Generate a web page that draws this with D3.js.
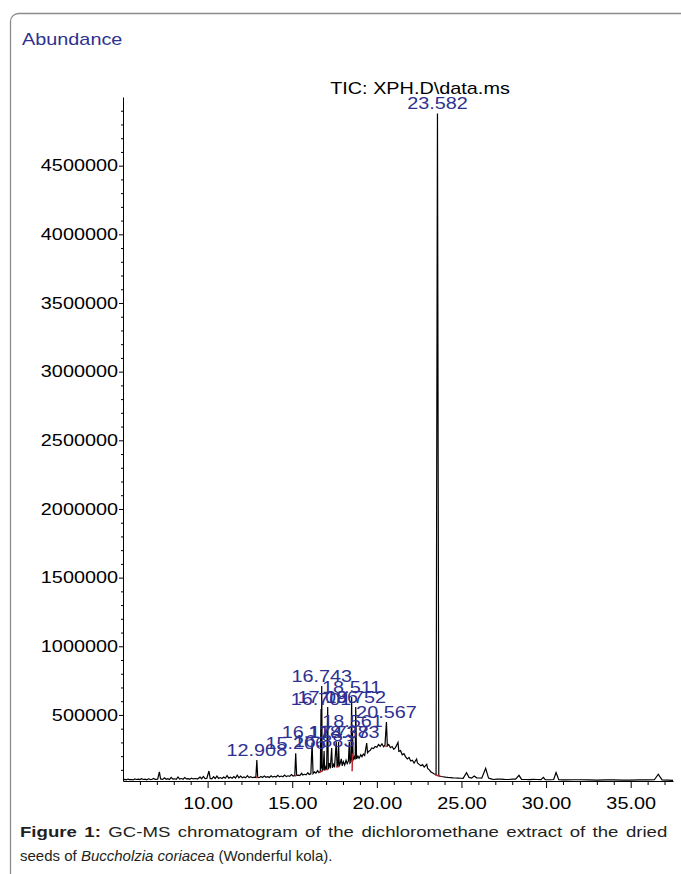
<!DOCTYPE html>
<html>
<head>
<meta charset="utf-8">
<script src="https://cdn.jsdelivr.net/npm/d3@7"></script>
<style>
  body { margin: 0; background: #fff; }
  #wrap { position: relative; width: 681px; height: 874px; overflow: hidden; }
  #chart { position: absolute; left: 0; top: 0; }
  .caption { position: absolute; left: 20px; font-family: "Liberation Sans", Arial, sans-serif;
    font-size: 15px; line-height: 24px; color: #231f20; white-space: nowrap; }
  .caption.l1 { top: 820px; width: 522px; text-align: justify; text-align-last: justify; white-space: normal;
    transform: scaleX(1.24); transform-origin: 0 0; }
  .caption.l2 { top: 844px; }
</style>
</head>
<body>
<div id="wrap">
  <div id="chart"></div>
  <div class="caption l1"><b>Figure 1:</b> GC-MS chromatogram of the dichloromethane extract of the dried</div>
  <div class="caption l2">seeds of <i>Buccholzia coriacea</i> (Wonderful kola).</div>
</div>
<script>

// --------------------------------------
//  Data
// --------------------------------------

// TIC trace: retention time (min), abundance
const traceTime = [
  5.00, 5.10, 5.20, 5.30, 5.40, 5.50, 5.60, 5.70, 5.80, 5.90, 6.00, 6.10, 6.20, 6.30, 6.40, 6.50,
  6.60, 6.70, 6.80, 6.90, 7.05, 7.15, 7.22, 7.35, 7.45, 7.55, 7.65, 7.75, 7.85, 7.95, 8.05, 8.15,
  8.25, 8.35, 8.45, 8.55, 8.65, 8.75, 8.85, 8.95, 9.05, 9.15, 9.30, 9.40, 9.55, 9.65, 9.75, 9.85,
  9.95, 10.08, 10.15, 10.25, 10.35, 10.45, 10.55, 10.65, 10.75, 10.85, 10.95, 11.05, 11.15, 11.25, 11.35, 11.45,
  11.55, 11.65, 11.75, 11.85, 11.95, 12.05, 12.15, 12.25, 12.35, 12.45, 12.55, 12.65, 12.75, 12.85, 12.908, 12.96,
  13.05, 13.15, 13.25, 13.35, 13.45, 13.55, 13.65, 13.75, 13.85, 13.95, 14.05, 14.15, 14.25, 14.35, 14.45, 14.55,
  14.65, 14.75, 14.85, 14.95, 15.05, 15.15, 15.206, 15.26, 15.35, 15.45, 15.55, 15.62, 15.72, 15.82, 15.92, 16.00,
  16.10, 16.174, 16.23, 16.32, 16.40, 16.50, 16.58, 16.66, 16.701, 16.72, 16.743, 16.77, 16.83, 16.883, 16.92, 16.98,
  17.03, 17.096, 17.13, 17.20, 17.25, 17.33, 17.37, 17.45, 17.50, 17.60, 17.65, 17.70, 17.738, 17.78, 17.84, 17.90,
  17.95, 18.02, 18.10, 18.18, 18.25, 18.32, 18.373, 18.41, 18.47, 18.511, 18.535, 18.561, 18.60, 18.68, 18.72, 18.752,
  18.80, 18.88, 18.95, 19.05, 19.12, 19.20, 19.28, 19.40, 19.45, 19.52, 19.60, 19.70, 19.80, 19.90, 20.00, 20.10,
  20.20, 20.30, 20.40, 20.48, 20.567, 20.62, 20.70, 20.80, 20.90, 21.00, 21.10, 21.25, 21.30, 21.40, 21.50, 21.60,
  21.70, 21.80, 21.90, 22.00, 22.10, 22.20, 22.35, 22.40, 22.50, 22.60, 22.70, 22.80, 22.95, 23.00, 23.10, 23.20,
  23.30, 23.40, 23.50, 23.582, 23.66, 23.70, 23.80, 23.90, 24.05, 24.20, 24.35, 24.50, 24.65, 24.80, 24.95, 25.10,
  25.30, 25.45, 25.60, 25.75, 25.90, 26.05, 26.20, 26.43, 26.60, 26.75, 26.90, 27.10, 27.30, 27.55, 27.80, 28.00,
  28.20, 28.40, 28.55, 28.80, 29.00, 29.25, 29.50, 29.70, 29.84, 29.95, 30.15, 30.30, 30.45, 30.59, 30.75, 31.00,
  31.20, 31.60, 32.00, 32.50, 33.00, 33.50, 34.00, 34.50, 35.00, 35.50, 36.00, 36.40, 36.63, 36.85, 37.20, 37.50
];
const traceAbund = [
  28000, 31000, 27000, 33000, 29000, 30000, 27000, 34000, 30000, 32000, 29000, 36000, 30000, 33000, 28000, 35000,
  31000, 30000, 37000, 31000, 33000, 85000, 34000, 31000, 42000, 32000, 36000, 30000, 45000, 33000, 35000, 31000,
  48000, 33000, 37000, 32000, 44000, 34000, 36000, 31000, 40000, 34000, 37000, 33000, 47000, 35000, 52000, 36000,
  38000, 92000, 38000, 35000, 50000, 37000, 55000, 38000, 44000, 37000, 48000, 39000, 58000, 40000, 47000, 39000,
  52000, 41000, 62000, 42000, 55000, 43000, 49000, 42000, 58000, 44000, 50000, 43000, 47000, 44000, 172000, 46000,
  43000, 52000, 45000, 56000, 46000, 50000, 45000, 57000, 47000, 53000, 48000, 60000, 49000, 55000, 50000, 62000,
  51000, 57000, 53000, 66000, 55000, 58000, 221000, 60000, 62000, 58000, 75000, 63000, 68000, 64000, 80000, 67000,
  72000, 300000, 72000, 85000, 76000, 95000, 80000, 88000, 543000, 110000, 711000, 95000, 100000, 238000, 95000, 120000,
  100000, 558000, 105000, 150000, 110000, 259000, 115000, 140000, 118000, 305000, 122000, 135000, 303000, 125000, 150000, 180000,
  130000, 160000, 135000, 170000, 145000, 165000, 303000, 150000, 160000, 631000, 165000, 383000, 170000, 195000, 175000, 558000,
  180000, 200000, 185000, 210000, 195000, 215000, 205000, 295000, 225000, 235000, 240000, 260000, 255000, 270000, 265000, 285000,
  272000, 290000, 268000, 280000, 449000, 275000, 285000, 262000, 270000, 250000, 262000, 300000, 235000, 240000, 210000, 218000,
  195000, 180000, 190000, 165000, 170000, 150000, 179000, 150000, 140000, 130000, 138000, 120000, 140000, 110000, 100000, 85000,
  78000, 70000, 65000, 4880000, 60000, 55000, 52000, 50000, 47000, 45000, 44000, 42000, 41000, 40000, 39000, 38000,
  80000, 45000, 40000, 55000, 42000, 41000, 40000, 111000, 40000, 35000, 30000, 33000, 33000, 31000, 30000, 32000,
  32000, 60000, 31000, 30000, 29000, 31000, 30000, 29000, 46000, 29000, 28000, 28000, 30000, 80000, 28000, 27000,
  27000, 28000, 28000, 27000, 26000, 27000, 27000, 26000, 26000, 27000, 27000, 28000, 68000, 27000, 25000, 24000
];

// labelled peaks
const peakTimes = [12.908, 15.206, 16.174, 16.701, 16.743, 16.883, 17.096, 17.738, 18.373, 18.511, 18.561, 18.752, 20.567, 23.582];
const peakHeights = [172000, 221000, 300000, 543000, 711000, 238000, 558000, 303000, 303000, 631000, 383000, 558000, 449000, 4880000];
const peakLabels = ["12.908", "15.206", "16.174", "16.701", "16.743", "16.883", "17.096", "17.738", "18.373", "18.511", "18.561", "18.752", "20.567", "23.582"];

// red integration marks: start time, start abundance, end time, end abundance
const markT1 = [12.85, 15.15, 16.62, 17.00, 17.60, 18.45, 18.54, 20.50, 23.45];
const markV1 = [44000, 56000, 82000, 100000, 120000, 160000, 90000, 270000, 65000];
const markT2 = [12.96, 15.26, 16.80, 17.13, 17.78, 18.60, 18.56, 20.62, 23.75];
const markV2 = [46000, 60000, 95000, 105000, 125000, 170000, 220000, 275000, 52000];

const yTicks = [500000, 1000000, 1500000, 2000000, 2500000, 3000000, 3500000, 4000000, 4500000];
const xTicks = [10, 15, 20, 25, 30, 35];

// --------------------------------------
//  Canvas
// --------------------------------------

const width = 681;
const height = 874;
const stretch = 1.24;  // chart texts are wide in the source
const font = '"Liberation Sans", Arial, sans-serif';
const blue = "#2e3192";

const svg = d3.select("#chart")
  .append("svg")
    .attr("width", width)
    .attr("height", height);

svg.append("rect")
    .attr("x", 10.5).attr("y", 13.5)
    .attr("width", 720).attr("height", 920)
    .attr("rx", 8)
    .attr("fill", "#fff")
    .attr("stroke", "#8c8c8c")
    .attr("stroke-width", 1.3);

function wideText(g, x, y, txt, anchor, color) {
  return g.append("text")
    .attr("transform", `translate(${x},${y}) scale(${stretch},1)`)
    .attr("text-anchor", anchor)
    .attr("font-family", font)
    .attr("font-size", 16)
    .attr("fill", color)
    .text(txt);
}

// --------------------------------------
//  Scales
// --------------------------------------

const x = d3.scaleLinear().domain([5, 37.5]).range([123, 673]);
const y = d3.scaleLinear().domain([19000, 5000000]).range([781, 97]);

// --------------------------------------
//  Axes
// --------------------------------------

const yAxis = svg.append("g")
    .attr("transform", `translate(${x(5)},0)`)
    .call(d3.axisLeft(y).tickValues(yTicks).tickSize(4).tickSizeOuter(0).tickPadding(0).tickFormat(d3.format("d")));
yAxis.selectAll("text")
    .attr("font-family", font).attr("font-size", 16).attr("fill", "#000")
    .attr("transform", `scale(${stretch},1)`);

svg.append("g")
    .attr("transform", `translate(${x(5)},0)`)
    .call(d3.axisLeft(y).tickValues(d3.range(100000, 5000001, 100000).filter(v => v % 500000 !== 0))
      .tickSize(2).tickSizeOuter(0).tickFormat(""))
    .select(".domain").remove();

const xAxis = svg.append("g")
    .attr("transform", `translate(0,${y(19000)})`)
    .call(d3.axisBottom(x).tickValues(xTicks).tickSize(7).tickSizeOuter(0).tickPadding(10).tickFormat(d3.format(".2f")));
xAxis.selectAll("text")
    .attr("font-family", font).attr("font-size", 16).attr("fill", "#000")
    .attr("transform", `scale(${stretch},1)`);

svg.append("g")
    .attr("transform", `translate(0,${y(19000)})`)
    .call(d3.axisBottom(x).tickValues(d3.range(6, 38, 1).filter(v => v % 5 !== 0))
      .tickSize(4).tickSizeOuter(0).tickFormat(""))
    .select(".domain").remove();

svg.selectAll(".domain, .tick line").attr("stroke", "#000");

// --------------------------------------
//  Trace
// --------------------------------------

const trace = traceTime.map((t, i) => ({t: t, v: traceAbund[i]}));

svg.append("path")
    .datum(trace)
    .attr("fill", "none")
    .attr("stroke", "#000")
    .attr("stroke-width", 1.2)
    .attr("d", d3.line().x(d => x(d.t)).y(d => y(d.v)));

svg.selectAll(".mark")
    .data(markT1)
    .join("line")
    .attr("class", "mark")
    .attr("x1", (d) => x(d))
    .attr("y1", (d, i) => y(markV1[i]))
    .attr("x2", (d, i) => x(markT2[i]))
    .attr("y2", (d, i) => y(markV2[i]))
    .attr("stroke", "#c0272d")
    .attr("stroke-width", 1.5);

// --------------------------------------
//  Texts
// --------------------------------------

peakTimes.forEach((t, i) => {
  wideText(svg, x(t), y(peakHeights[i]) - 4, peakLabels[i], "middle", blue);
});

wideText(svg, 22, 45, "Abundance", "start", blue);
wideText(svg, 420, 94, "TIC: XPH.D\\data.ms", "middle", "#000");

</script>
</body>
</html>
